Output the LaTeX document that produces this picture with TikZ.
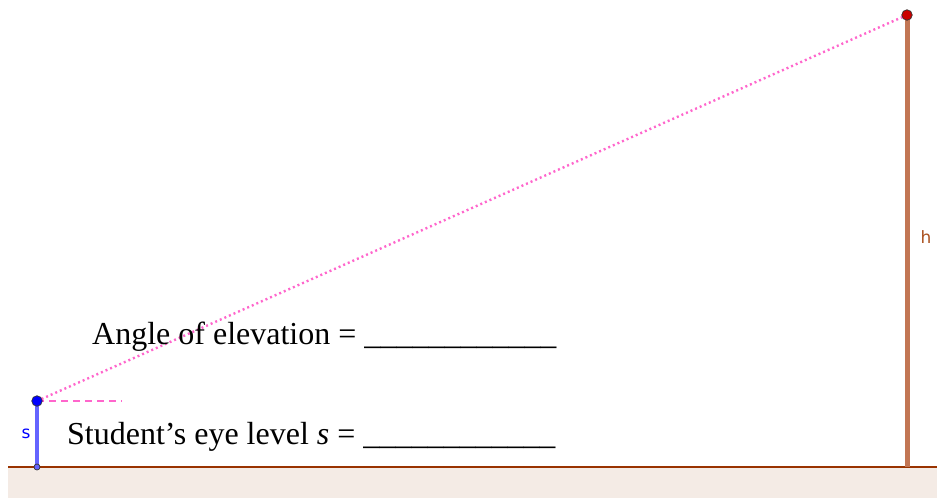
\documentclass[tikz,border=0pt]{standalone}
\usepackage{fontspec}
\setmainfont{Liberation Serif}
\newfontfamily\labelfont{DejaVu Sans}
\usetikzlibrary{positioning, calc}

\definecolor{groundline}{RGB}{153,51,0}
\definecolor{groundfill}{RGB}{244,235,229}
\definecolor{polebrown}{RGB}{194,118,84}
\definecolor{hbrown}{RGB}{170,80,30}
\definecolor{eyeblue}{RGB}{100,100,255}
\definecolor{sightpink}{RGB}{255,102,204}

\begin{document}
\begin{tikzpicture}[
  x=1pt, y=-1pt,
  pt/.style={circle, draw=black!80, line width=0.7pt, inner sep=0pt, minimum size=#1},
  caption/.style={anchor=base west, inner sep=0pt, font=\fontsize{32}{38}\selectfont},
  seglabel/.style={inner sep=0pt, font=\labelfont\fontsize{17}{20}\selectfont},
  sight/.style={sightpink, line width=2.4pt, dash pattern=on 2pt off 3pt},
  level/.style={sightpink, line width=1.8pt, dash pattern=on 7pt off 5pt},
]
% Frame and ground.
\useasboundingbox (0,0) rectangle (937,498);
\fill[groundfill] (8,467) rectangle (937,498);
\draw[groundline, line width=2.2pt] (8,467) -- (937,467);

% Points: foot of student, eye, top of the building.
\coordinate (foot) at (37,467);
\coordinate (base) at (907,467);
\coordinate (eye) at (37,401);
\coordinate (top) at (907,15);
\coordinate (levelend) at (122,401);

% Building height h and student height s.
\draw[polebrown, line width=5pt] (base) -- (top);
\draw[eyeblue, line width=3.2pt] (foot) -- (eye);
\node[pt=6pt, fill=eyeblue] (footpt) at (foot) {};

% Line of sight and horizontal eye level.
\draw[sight] (eye) -- (top);
\draw[level] (eye) -- (levelend);
\node[pt=10.5pt, fill=blue]          (eyept) at (eye) {};
\node[pt=10.5pt, fill=red!80!black]  (toppt) at (top) {};

% Labels.
\node[seglabel, text=hbrown] (hlab) at (926,237) {h};
\node[seglabel, text=blue]   (slab) at (26,434)  {s};
\node[caption] (angle) at (92,344)  {Angle of elevation = \_\_\_\_\_\_\_\_\_\_\_\_};
\node[caption] (level) at (67,444)  {Student’s eye level \textit{s} = \_\_\_\_\_\_\_\_\_\_\_\_};
\end{tikzpicture}
\end{document}
